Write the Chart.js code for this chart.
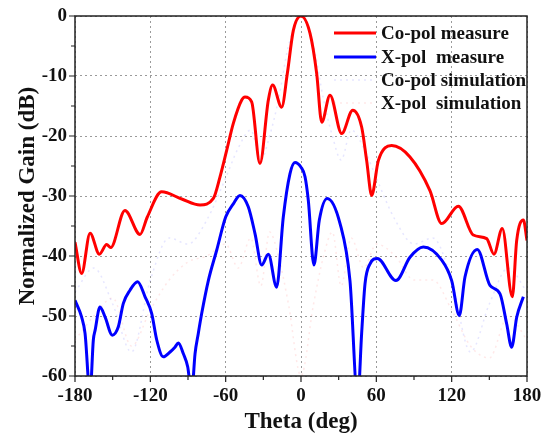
<!DOCTYPE html>
<html>
<head>
<meta charset="utf-8">
<script src="https://cdn.jsdelivr.net/npm/chart.js@4"></script>
<style>
  html, body { margin: 0; padding: 0; background: #fff; }
  #wrap { width: 541px; height: 436px; }
</style>
</head>
<body>
<div id="wrap"><canvas id="c" width="541" height="436"></canvas></div>
<script>
// angles (deg) and normalized gain (dB)
const coTheta = [-180,-174.7,-168,-160.6,-154.8,-151.6,-140.2,-128.2,-122.4,-111,-95,-80.4,-69.8,-64.5,-59.2,-53.9,-47.2,-44.6,-39.3,-32.7,-26,-22.6,-15.4,-10.9,-6.1,0,7.2,12.5,16.5,23.1,32.4,41.2,48.3,52.3,56.3,61.6,72.2,86.8,102.7,112.1,125.3,137.2,147.9,153.7,160.3,168.3,171.8,177.1,180];
const coMeasure = [-37.7,-42.9,-36.2,-39.7,-38.1,-38.6,-32.4,-36.4,-33.5,-29.3,-30.5,-31.5,-30.4,-26.8,-22.4,-17.9,-14.0,-13.5,-14.3,-24.6,-14.0,-11.5,-15.2,-9.6,-2.4,0,-2.9,-9.6,-17.7,-13.2,-19.6,-15.7,-18.5,-24.1,-29.9,-24.1,-21.6,-23.5,-29.1,-34.6,-31.7,-36.5,-37.1,-39.7,-35.4,-46.8,-37.4,-34.0,-37.4];

const xTheta = [-180,-174.7,-172,-168,-165.4,-164,-160.1,-156,-150.3,-145.5,-141.5,-136.2,-130.1,-124.2,-118.9,-114.9,-109.7,-104.3,-100.4,-97.7,-93.7,-90.2,-87.1,-84.4,-81.8,-79.1,-73.8,-67.1,-60,-53.9,-48.6,-42,-36.6,-31.3,-26,-19.4,-14.1,-8.8,-4.8,0,3.2,5.8,10.3,14.6,20.9,31.1,39,45.2,48.3,51,55,60.8,75.6,86.8,97.4,112.1,120,126.1,130.6,140.4,150.5,158.5,163.8,167.8,171.8,177.1];
const xMeasure = [-47.4,-50.2,-52.9,-63,-54,-52.4,-48.5,-50.2,-53.2,-51.8,-47.9,-45.7,-44.3,-46.8,-49.6,-54,-56.8,-56,-55.2,-54.5,-56.3,-58.5,-63,-56.3,-52.9,-49.6,-44.1,-39,-33.5,-31.3,-29.9,-31.8,-36.3,-41.5,-39.7,-45.2,-33.5,-26.3,-24.4,-25.2,-26.8,-30.7,-41.5,-34.0,-30.4,-34.6,-44.1,-64,-52.9,-44.6,-41.3,-40.4,-44.1,-40.2,-38.5,-40.7,-44.1,-49.9,-43.5,-38.9,-44.9,-46.3,-51.3,-55.2,-50.2,-46.8];

const simTheta = [-180,-165,-150,-135,-120,-105,-90,-75,-60,-50,-40,-32,-25,-18,-10,0,10,18,25,32,40,50,60,75,90,105,120,135,150,165,180];
const coSimulation = [-46,-42,-48,-56,-44,-37,-38,-34,-27,-22,-19,-24,-20,-14,-5,0,-5,-14,-20,-24,-19,-22,-27,-34,-38,-37,-44,-56,-48,-42,-46];
const xSimulation = [-54,-50,-47,-55,-49,-44,-41,-40,-38,-42,-37,-45,-36,-40,-48,-60,-48,-40,-36,-45,-37,-42,-38,-40,-44,-44,-49,-55,-57,-50,-54];

const legendLabels = ['Co-pol measure', 'X-pol  measure', 'Co-pol simulation', 'X-pol  simulation'];

const FONT = '"Liberation Serif", "Times New Roman", serif';
const SIM_CO = 'rgba(140,140,255,0.22)';
const SIM_X = 'rgba(255,140,140,0.2)';

function pts(xs, ys) {
    return xs.map((x, i) => ({ x: x, y: ys[i] }));
}

// outer frame, minor/major tick marks and the in-plot legend
const framePlugin = {
    id: 'frame',
    afterDraw(chart) {
        const ctx = chart.ctx;
        const a = chart.chartArea;
        const sx = chart.scales.x, sy = chart.scales.y;
        ctx.save();
        ctx.strokeStyle = '#222';
        ctx.lineWidth = 1.5;
        ctx.strokeRect(a.left, a.top, a.right - a.left, a.bottom - a.top);

        ctx.lineWidth = 1.2;
        ctx.beginPath();
        for (let v = -180; v <= 180; v += 30) {
            const px = sx.getPixelForValue(v);
            const len = v % 60 === 0 ? 6 : 4;
            ctx.moveTo(px, a.bottom);
            ctx.lineTo(px, a.bottom + len);
        }
        for (let v = -60; v <= 0; v += 5) {
            const py = sy.getPixelForValue(v);
            const len = v % 10 === 0 ? 6 : 4;
            ctx.moveTo(a.left, py);
            ctx.lineTo(a.left - len, py);
        }
        ctx.stroke();

        // legend
        const lx1 = 334, lx2 = 376, tx = 381;
        const rows = [33, 57, 80, 103];
        const styles = [
            { c: '#ff0000', w: 3, d: [] },
            { c: '#0000ff', w: 3, d: [] },
            { c: SIM_CO, w: 1.5, d: [2, 4] },
            { c: SIM_X, w: 1.5, d: [2, 4] }
        ];
        rows.forEach((y, i) => {
            ctx.beginPath();
            ctx.strokeStyle = styles[i].c;
            ctx.lineWidth = styles[i].w;
            ctx.setLineDash(styles[i].d);
            ctx.moveTo(lx1, y);
            ctx.lineTo(lx2, y);
            ctx.stroke();
        });
        ctx.setLineDash([]);
        ctx.fillStyle = '#111';
        ctx.font = 'bold 19px ' + FONT;
        ctx.textBaseline = 'middle';
        ctx.textAlign = 'left';
        rows.forEach((y, i) => ctx.fillText(legendLabels[i], tx, y + 1));
        ctx.restore();
    }
};

const ctx = document.getElementById('c').getContext('2d');
new Chart(ctx, {
    type: 'line',
    data: {
        datasets: [{
            label: legendLabels[0],
            data: pts(coTheta, coMeasure),
            borderColor: '#ff0000',
            borderWidth: 3,
            order: 1
        }, {
            label: legendLabels[1],
            data: pts(xTheta, xMeasure),
            borderColor: '#0000ff',
            borderWidth: 3,
            order: 2
        }, {
            label: legendLabels[2],
            data: pts(simTheta, coSimulation),
            borderColor: SIM_CO,
            borderWidth: 1.5,
            borderDash: [2, 4],
            order: 3
        }, {
            label: legendLabels[3],
            data: pts(simTheta, xSimulation),
            borderColor: SIM_X,
            borderWidth: 1.5,
            borderDash: [2, 4],
            order: 4
        }]
    },
    options: {
        responsive: false,
        animation: false,
        devicePixelRatio: 1,
        layout: { padding: { top: 16, right: 14, left: 0, bottom: 0 } },
        elements: {
            point: { radius: 0 },
            line: { cubicInterpolationMode: 'monotone', fill: false }
        },
        plugins: { legend: { display: false }, tooltip: { enabled: false } },
        scales: {
            x: {
                type: 'linear',
                min: -180,
                max: 180,
                afterFit: s => { s.height = 60; s.paddingLeft = 0; s.paddingRight = 0; },
                ticks: {
                    stepSize: 60,
                    color: '#111',
                    padding: 9,
                    maxRotation: 0,
                    font: { family: FONT, size: 19, weight: 'bold' }
                },
                grid: { color: '#9a9a9a', lineWidth: 1, drawTicks: false },
                border: { display: false, dash: [2, 3] },
                title: {
                    display: true,
                    text: 'Theta (deg)',
                    color: '#111',
                    padding: { top: 0, bottom: 0 },
                    font: { family: FONT, size: 23, weight: 'bold' }
                }
            },
            y: {
                min: -60,
                max: 0,
                afterFit: s => { s.width = 75; s.paddingTop = 0; s.paddingBottom = 0; },
                ticks: {
                    stepSize: 10,
                    color: '#111',
                    padding: 8,
                    font: { family: FONT, size: 19, weight: 'bold' }
                },
                grid: { color: '#9a9a9a', lineWidth: 1, drawTicks: false },
                border: { display: false, dash: [2, 3] },
                title: {
                    display: true,
                    text: 'Normalized Gain (dB)',
                    color: '#111',
                    padding: { top: 14, bottom: 0 },
                    font: { family: FONT, size: 23, weight: 'bold' }
                }
            }
        }
    },
    plugins: [framePlugin]
});
</script>
</body>
</html>
